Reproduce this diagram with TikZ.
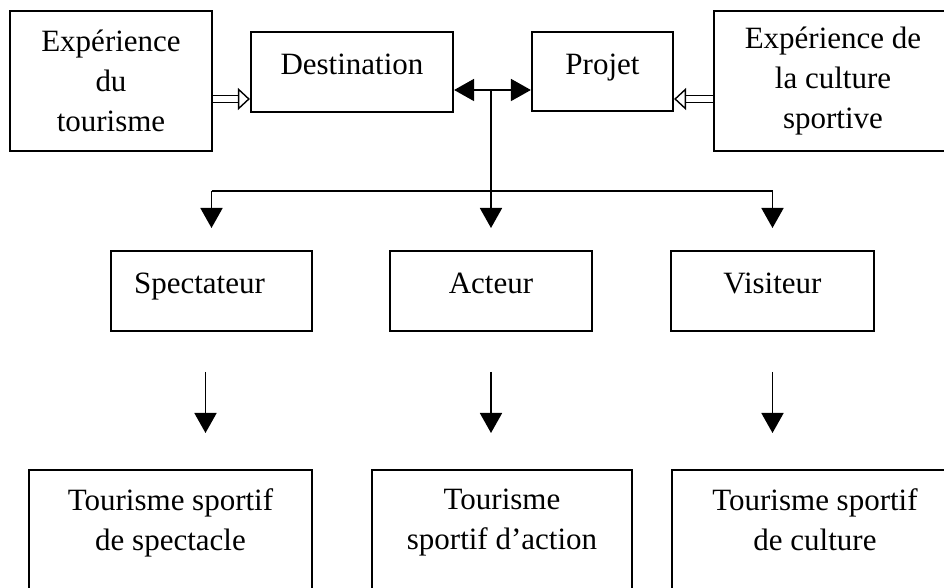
\documentclass[tikz,border=0pt]{standalone}
\usepackage{fontspec}
\setmainfont{Liberation Serif}
\usetikzlibrary{arrows.meta}

\tikzset{
  box/.style={draw, line width=1.1pt, inner sep=2pt, align=center},
  raised/.style={text height=11pt, text depth=8.3pt},
  lowbox/.style={box, anchor=north, inner ysep=9.5pt, text depth=70pt},
  conn/.style={line width=0.9pt},
  hollow/.style={double, double distance=3pt, line width=0.5pt,
    -{Triangle[open, length=6pt, width=11pt, line width=0.7pt]}}
}

\begin{document}
\begin{tikzpicture}[x=0.5pt, y=-0.5pt, font=\fontsize{15.5}{20}\selectfont,
  >={Triangle[width=11pt,length=10pt]}]
\useasboundingbox (0,0) rectangle (944,588);

%% Top row
\node[box, minimum width=101pt, minimum height=70pt] (exptour) at (111,81) {Expérience\\du\\tourisme};
\node[box, raised, minimum width=101pt, minimum height=40pt] (dest) at (352,72) {Destination};
\node[box, raised, minimum width=70.5pt, minimum height=39.5pt] (projet) at (602.5,71.5) {Projet};
\node[box, minimum width=119pt, minimum height=70pt] (expsport) at (833,81) {Expérience de\\la culture\\sportive};

%% Middle row
\node[box, raised, minimum width=100.5pt, minimum height=40pt] (spect) at (211.5,291) {Spectateur\hspace{12pt}};
\node[box, raised, minimum width=101pt, minimum height=40pt] (act) at (491,291) {Acteur};
\node[box, raised, minimum width=101.5pt, minimum height=40pt] (visit) at (772.5,291) {Visiteur};

%% Bottom row
\node[lowbox, minimum width=141.5pt] (tsspect) at (170.5,469) {Tourisme sportif\\de spectacle};
\node[lowbox, minimum width=130pt] (tsact) at (502,469) {Tourisme\\sportif d'action};
\node[lowbox, minimum width=143pt] (tscult) at (815,469) {Tourisme sportif\\de culture};

%% Levels of the connectors
\coordinate (hin) at (0,99);
\coordinate (dbl) at (0,90);
\coordinate (bus) at (0,191);
\coordinate (bustip) at (0,228);
\coordinate (midtop) at (0,372);
\coordinate (midtip) at (0,433);

%% Inputs
\draw[hollow] (exptour.east |- hin) -- (dest.west |- hin);
\draw[hollow] (expsport.west |- hin) -- (projet.east |- hin);

%% Destination <-> Projet and the bus
\draw[conn, <->] (dest.east |- dbl) -- (projet.west |- dbl);
\draw[conn] (act.north |- dbl) -- (act.north |- bus);
\draw[conn] (spect.north |- bus) -- (visit.north |- bus);
\foreach \n in {spect, act, visit}
  \draw[conn, ->] (\n.north |- bus) -- (\n.north |- bustip);

%% Down to the kinds of tourism
\draw[conn, ->] ([xshift=-3pt]spect.south |- midtop) -- ([xshift=-3pt]spect.south |- midtip);
\draw[conn, ->] (act.south |- midtop) -- (act.south |- midtip);
\draw[conn, ->] (visit.south |- midtop) -- (visit.south |- midtip);

\end{tikzpicture}
\end{document}
